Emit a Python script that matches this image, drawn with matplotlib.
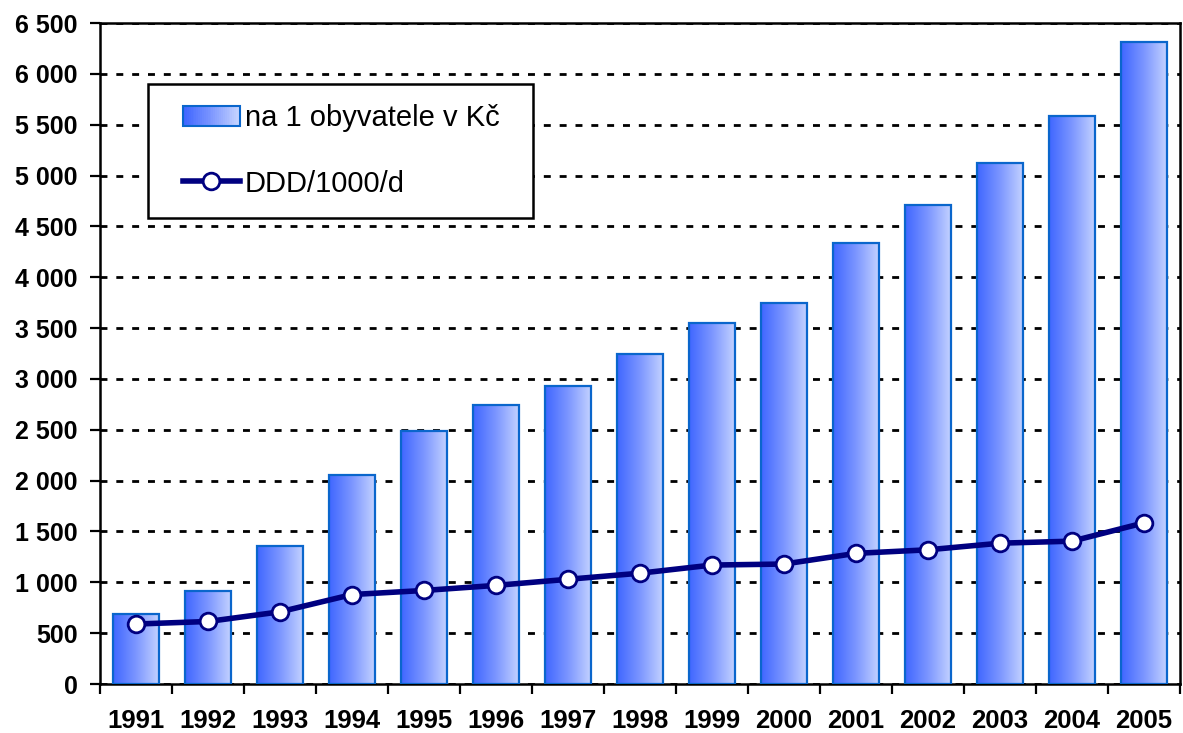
import numpy as np
import matplotlib
matplotlib.use("Agg")
import matplotlib.pyplot as plt
from matplotlib.patches import Rectangle
from matplotlib.legend_handler import HandlerBase
from matplotlib.colors import LinearSegmentedColormap
from matplotlib.ticker import FuncFormatter, MultipleLocator

plt.rcParams['font.family'] = ['Liberation Sans', 'DejaVu Sans']

# data
years = ['1991', '1992', '1993', '1994', '1995', '1996', '1997', '1998',
         '1999', '2000', '2001', '2002', '2003', '2004', '2005']
na_obyvatele = [690, 915, 1360, 2055, 2490, 2745, 2930, 3245,
                3550, 3750, 4335, 4710, 5125, 5590, 6310]
ddd = [590, 615, 710, 880, 920, 970, 1030, 1090,
       1170, 1180, 1285, 1320, 1385, 1405, 1585]

grad = LinearSegmentedColormap.from_list('g', ['#3f66ff', '#7d97ff', '#c6d4ff'])
edge_c = '#0a66cc'
line_c = '#000080'


class GradientHandler(HandlerBase):
    def create_artists(self, legend, orig_handle, xdescent, ydescent,
                       width, height, fontsize, trans):
        arts = []
        n = 30
        for i in range(n):
            arts.append(Rectangle((-xdescent + i * width / n, -ydescent), width / n + 0.3, height,
                                  facecolor=grad(i / (n - 1)), lw=0, transform=trans))
        arts.append(Rectangle((-xdescent, -ydescent), width, height, facecolor='none',
                              edgecolor=edge_c, lw=1.5, transform=trans))
        return arts


fig = plt.figure(figsize=(11.83, 7.33), dpi=100)
ax = fig.add_axes([0.0845, 0.0668, 0.913, 0.9018])

x = np.arange(len(years))
bars = ax.bar(x, na_obyvatele, width=0.65, facecolor='none', edgecolor=edge_c,
              linewidth=1.6, zorder=3)
g = np.linspace(0, 1, 256).reshape(1, -1)
for b in bars:
    x0, y0 = b.get_x(), b.get_y()
    ax.imshow(g, cmap=grad, extent=(x0, x0 + b.get_width(), y0, y0 + b.get_height()),
              aspect='auto', interpolation='bicubic', zorder=2.5)

line, = ax.plot(x, ddd, color=line_c, lw=4, marker='o', markersize=12,
                markerfacecolor='white', markeredgecolor=line_c, markeredgewidth=2, zorder=4)

ax.set_xlim(-0.5, len(years) - 0.5)
ax.set_ylim(0, 6500)
ax.yaxis.set_major_locator(MultipleLocator(500))
ax.yaxis.set_major_formatter(FuncFormatter(lambda v, p: f"{int(v):,}".replace(',', ' ')))
ax.set_xticks(x)
ax.set_xticklabels(years)
ax.set_xticks(np.arange(-0.5, len(years)), minor=True)
ax.tick_params(axis='x', which='major', length=0, pad=18, labelsize=18.5)
ax.tick_params(axis='x', which='minor', length=7, width=1.6, direction='out')
ax.tick_params(axis='y', length=7, width=1.6, direction='out', pad=9, labelsize=18)
for lab in ax.get_xticklabels() + ax.get_yticklabels():
    lab.set_fontweight('bold')
for s in ax.spines.values():
    s.set_linewidth(1.8)

ax.set_axisbelow(True)
ax.yaxis.grid(True, color='black', linestyle=(0, (2.5, 3.2)), linewidth=2)

# legend frame
ax.add_patch(Rectangle((0.0444, 0.705), 0.3565, 0.2027, transform=ax.transAxes,
                       facecolor='white', edgecolor='black', lw=1.8, zorder=5))
leg = ax.legend([bars, line], ['na 1 obyvatele v Kč', 'DDD/1000/d'],
                handler_map={bars: GradientHandler()},
                loc='upper left', bbox_to_anchor=(0.0769, 0.877), frameon=False,
                borderpad=0, borderaxespad=0, fontsize=21, handlelength=1.95,
                handleheight=0.69, handletextpad=0.17, labelspacing=1.28)
leg.set_zorder(6)

fig.savefig('out.png', dpi=100)
